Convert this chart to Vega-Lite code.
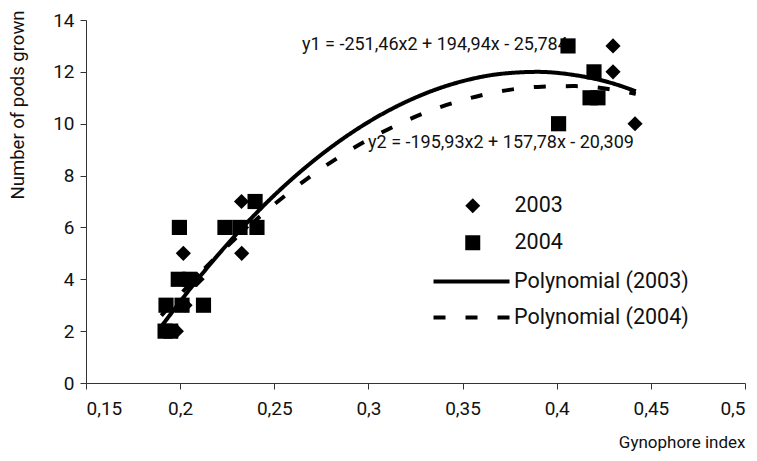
{
  "$schema": "https://vega.github.io/schema/vega-lite/v6.json",
  "width": 659,
  "height": 363,
  "autosize": "none",
  "padding": {"left": 86, "top": 20, "right": 12, "bottom": 78},
  "background": "white",
  "config": {
    "view": {"stroke": null},
    "font": "Roboto, sans-serif",
    "axis": {"grid": false, "domainColor": "#333", "tickColor": "#333", "labelColor": "#111", "titleColor": "#111", "labelFont": "Roboto", "titleFont": "Roboto", "titleFontWeight": "normal", "tickSize": 6},
    "legend": {"labelFont": "Roboto", "labelColor": "#111", "labelLimit": 400}
  },
  "datasets": {
    "points": [
      {"gi": 0.198, "pods": 2, "series": "2003"},
      {"gi": 0.2026, "pods": 3, "series": "2003"},
      {"gi": 0.209, "pods": 4, "series": "2003"},
      {"gi": 0.2017, "pods": 5, "series": "2003"},
      {"gi": 0.2327, "pods": 5, "series": "2003"},
      {"gi": 0.2326, "pods": 6, "series": "2003"},
      {"gi": 0.2326, "pods": 7, "series": "2003"},
      {"gi": 0.4299, "pods": 13, "series": "2003"},
      {"gi": 0.4299, "pods": 12, "series": "2003"},
      {"gi": 0.4416, "pods": 10, "series": "2003"},
      {"gi": 0.192, "pods": 2, "series": "2004"},
      {"gi": 0.195, "pods": 2, "series": "2004"},
      {"gi": 0.1925, "pods": 3, "series": "2004"},
      {"gi": 0.201, "pods": 3, "series": "2004"},
      {"gi": 0.2124, "pods": 3, "series": "2004"},
      {"gi": 0.199, "pods": 4, "series": "2004"},
      {"gi": 0.205, "pods": 4, "series": "2004"},
      {"gi": 0.1996, "pods": 6, "series": "2004"},
      {"gi": 0.2238, "pods": 6, "series": "2004"},
      {"gi": 0.2318, "pods": 6, "series": "2004"},
      {"gi": 0.2408, "pods": 6, "series": "2004"},
      {"gi": 0.2398, "pods": 7, "series": "2004"},
      {"gi": 0.406, "pods": 13, "series": "2004"},
      {"gi": 0.4198, "pods": 12, "series": "2004"},
      {"gi": 0.4177, "pods": 11, "series": "2004"},
      {"gi": 0.4219, "pods": 11, "series": "2004"},
      {"gi": 0.401, "pods": 10, "series": "2004"}
    ],
    "curves": [
      {"gi": 0.19, "pods": 2.18, "trend": "Polynomial (2003)"},
      {"gi": 0.21, "pods": 4.06, "trend": "Polynomial (2003)"},
      {"gi": 0.23, "pods": 5.75, "trend": "Polynomial (2003)"},
      {"gi": 0.25, "pods": 7.24, "trend": "Polynomial (2003)"},
      {"gi": 0.27, "pods": 8.52, "trend": "Polynomial (2003)"},
      {"gi": 0.29, "pods": 9.6, "trend": "Polynomial (2003)"},
      {"gi": 0.31, "pods": 10.48, "trend": "Polynomial (2003)"},
      {"gi": 0.33, "pods": 11.16, "trend": "Polynomial (2003)"},
      {"gi": 0.35, "pods": 11.64, "trend": "Polynomial (2003)"},
      {"gi": 0.37, "pods": 11.92, "trend": "Polynomial (2003)"},
      {"gi": 0.39, "pods": 12.0, "trend": "Polynomial (2003)"},
      {"gi": 0.41, "pods": 11.87, "trend": "Polynomial (2003)"},
      {"gi": 0.43, "pods": 11.55, "trend": "Polynomial (2003)"},
      {"gi": 0.442, "pods": 11.25, "trend": "Polynomial (2003)"},
      {"gi": 0.19, "pods": 2.6, "trend": "Polynomial (2004)"},
      {"gi": 0.21, "pods": 4.19, "trend": "Polynomial (2004)"},
      {"gi": 0.23, "pods": 5.62, "trend": "Polynomial (2004)"},
      {"gi": 0.25, "pods": 6.89, "trend": "Polynomial (2004)"},
      {"gi": 0.27, "pods": 8.01, "trend": "Polynomial (2004)"},
      {"gi": 0.29, "pods": 8.97, "trend": "Polynomial (2004)"},
      {"gi": 0.31, "pods": 9.77, "trend": "Polynomial (2004)"},
      {"gi": 0.33, "pods": 10.42, "trend": "Polynomial (2004)"},
      {"gi": 0.35, "pods": 10.91, "trend": "Polynomial (2004)"},
      {"gi": 0.37, "pods": 11.25, "trend": "Polynomial (2004)"},
      {"gi": 0.39, "pods": 11.42, "trend": "Polynomial (2004)"},
      {"gi": 0.41, "pods": 11.45, "trend": "Polynomial (2004)"},
      {"gi": 0.43, "pods": 11.31, "trend": "Polynomial (2004)"},
      {"gi": 0.442, "pods": 11.15, "trend": "Polynomial (2004)"}
    ]
  },
  "layer": [
    {
      "data": {"name": "curves"},
      "mark": {"type": "line", "color": "black", "strokeWidth": 4, "interpolate": "monotone"},
      "encoding": {
        "x": {"field": "gi", "type": "quantitative", "scale": {"domain": [0.15, 0.5], "nice": false, "zero": false},
              "axis": {"values": [0.15, 0.2, 0.25, 0.3, 0.35, 0.4, 0.45, 0.5], "labelExpr": "replace(format(datum.value, '.2~f'), '.', ',')", "labelFontSize": 19, "labelPadding": 10, "title": "Gynophore index", "titleFontSize": 17, "titleAnchor": "end", "titlePadding": 16}},
        "y": {"field": "pods", "type": "quantitative", "scale": {"domain": [0, 14], "nice": false},
              "axis": {"values": [0, 2, 4, 6, 8, 10, 12, 14], "labelFontSize": 19, "labelPadding": 6, "title": "Number of pods grown", "titleFontSize": 18.5, "titleAngle": -90, "titleAlign": "right", "titleBaseline": "middle", "titleX": -69, "titleY": -10}},
        "detail": {"field": "trend"},
        "strokeDash": {"field": "trend", "type": "nominal",
          "scale": {"domain": ["Polynomial (2003)", "Polynomial (2004)"], "range": [[1, 0], [12, 20]]},
          "legend": {"orient": "none", "legendX": 374, "legendY": 250, "title": null, "labelFontSize": 21.5, "symbolType": "M-4,0H4", "symbolSize": 361, "symbolStrokeWidth": 4, "symbolStrokeColor": "black", "labelOffset": 31, "rowPadding": 14}}
      }
    },
    {
      "data": {"values": [{"eq": "y1 = -251,46x2 + 194,94x - 25,784"}]},
      "mark": {"type": "text", "align": "left", "baseline": "middle", "fontSize": 18, "color": "#111"},
      "encoding": {"x": {"datum": 0.2647}, "y": {"datum": 13.03}, "text": {"field": "eq"}}
    },
    {
      "data": {"values": [{"eq": "y2 = -195,93x2 + 157,78x - 20,309"}]},
      "mark": {"type": "text", "align": "left", "baseline": "middle", "fontSize": 18, "color": "#111"},
      "encoding": {"x": {"datum": 0.2998}, "y": {"datum": 9.26}, "text": {"field": "eq"}}
    },
    {
      "data": {"name": "points"},
      "mark": {"type": "point", "filled": true, "color": "black", "opacity": 1},
      "encoding": {
        "x": {"field": "gi", "type": "quantitative"},
        "y": {"field": "pods", "type": "quantitative"},
        "shape": {"field": "series", "type": "nominal",
          "scale": {"domain": ["2003", "2004"], "range": ["diamond", "square"]},
          "legend": {"orient": "none", "legendX": 376, "legendY": 175, "title": null, "labelFontSize": 21.5, "symbolSize": 225, "symbolFillColor": "black", "symbolStrokeWidth": 0, "labelOffset": 31, "rowPadding": 14}},
        "size": {"value": 230}
      }
    }
  ]
}
